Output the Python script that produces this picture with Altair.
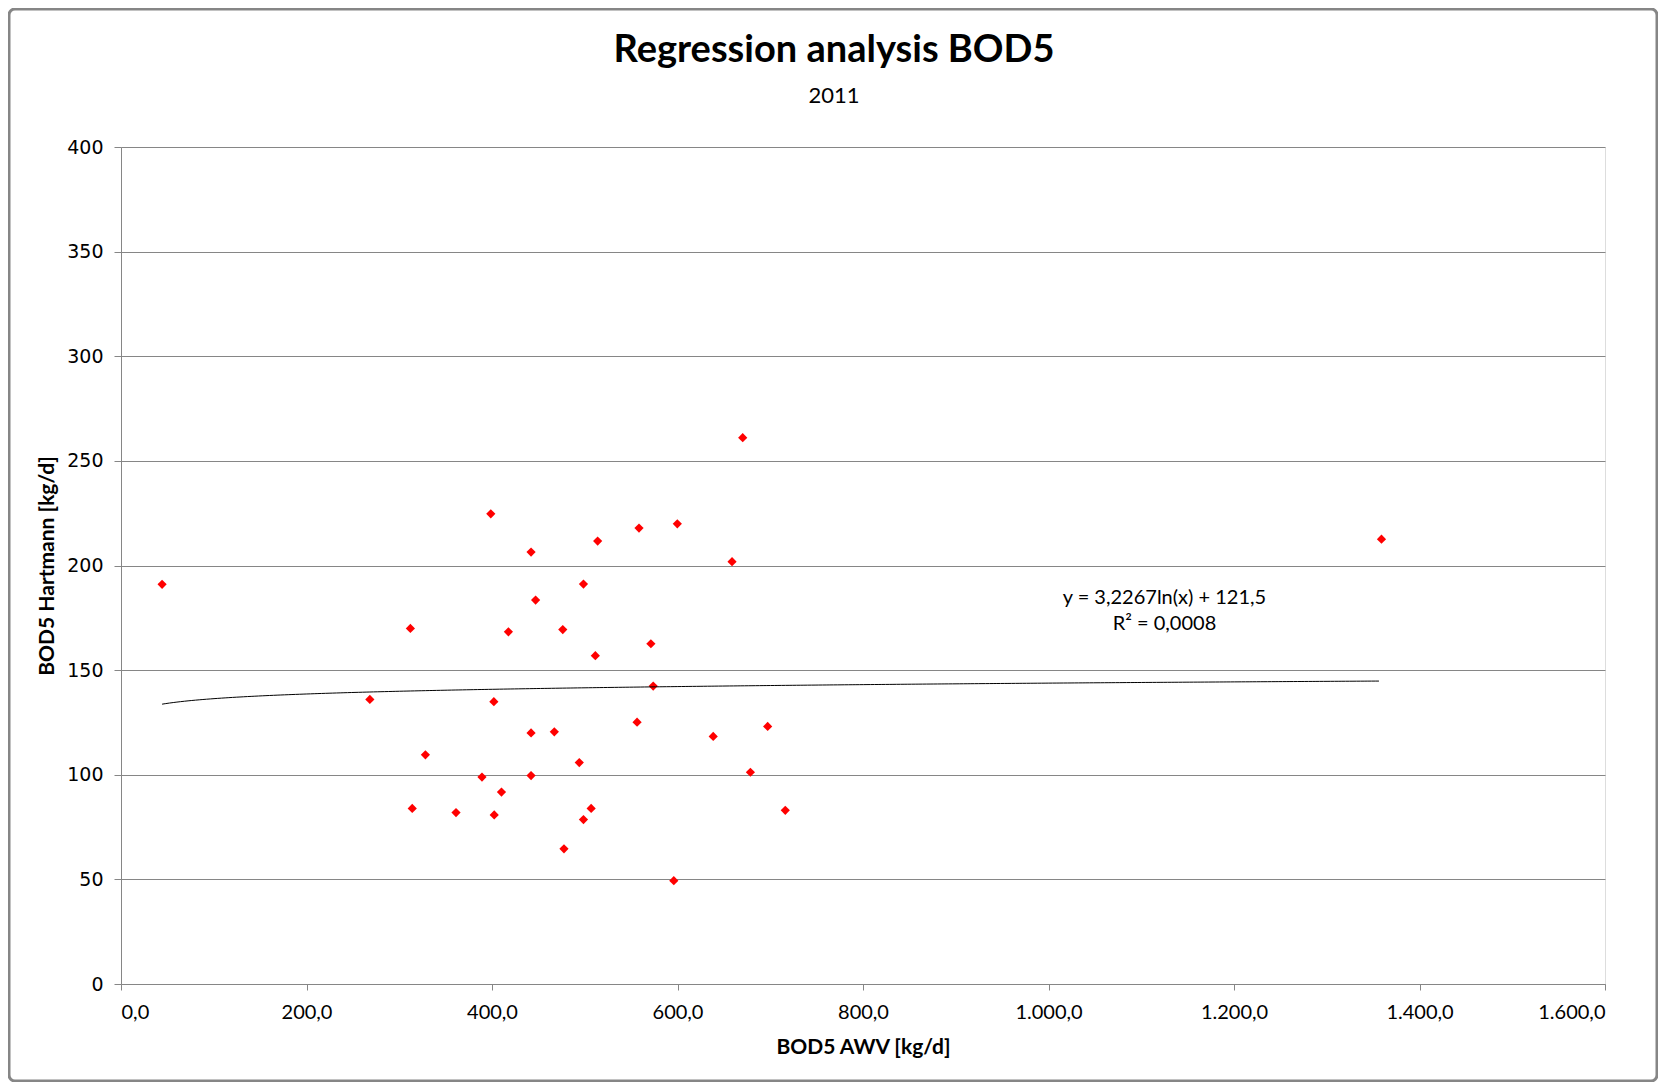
import altair as alt
import pandas as pd

# BOD5 AWV [kg/d] (x) and BOD5 Hartmann [kg/d] (y)
awv = [44.3, 268.3, 312.0, 314.0, 328.2, 361.2, 389.2, 398.7, 402.0, 402.4,
       410.2, 417.7, 442.1, 442.1, 442.1, 447.0, 467.2, 476.3, 477.6, 494.1,
       498.6, 498.6, 506.9, 511.4, 513.9, 556.4, 558.5, 571.3, 573.8, 596.0,
       599.8, 638.5, 658.8, 670.3, 678.6, 697.2, 716.2, 1359.0]
hartmann = [191.0, 136.0, 169.9, 83.9, 109.5, 81.9, 98.9, 224.7, 134.9, 80.8,
            91.7, 168.3, 206.4, 120.0, 99.6, 183.5, 120.5, 169.4, 64.6, 105.8,
            191.1, 78.6, 83.9, 156.9, 211.7, 125.1, 217.9, 162.6, 142.4, 49.4,
            219.9, 118.3, 201.8, 261.1, 101.2, 123.1, 83.0, 212.6]

# logarithmic trend line as printed on the chart
slope = 3.2267
intercept = 121.5
eq_lines = ["y = 3,2267ln(x) + 121,5", "R² = 0,0008"]

x_ticks = list(range(0, 1601, 200))
y_ticks = list(range(0, 401, 50))

df = pd.DataFrame({"awv": awv, "hartmann": hartmann})

W, H = 1484, 837
PL, PT = 113, 139
PR = 1650 - PL - W
PB = 1074 - PT - H

GRAY = "#868686"
XT = "BOD5 AWV [kg/d]"
YT = "BOD5  Hartmann [kg/d]"

label_expr = ("replace(replace(replace(format(datum.value, ',.1f'), ',', '#'), "
              "'.', ','), '#', '.')")

x_scale = alt.Scale(domain=[0, 1600], nice=False, zero=False)
y_scale = alt.Scale(domain=[0, 400], nice=False)

x_axis = alt.Axis(values=x_ticks, labelExpr=label_expr, grid=False, tickSize=6,
                  domainColor=GRAY, tickColor=GRAY,
                  labelFont="Lato", labelFontSize=20, labelPadding=12,
                  titleFont="Lato", titleFontSize=21, titleFontWeight="bold",
                  titlePadding=14)
y_axis = alt.Axis(values=y_ticks, grid=True, gridColor=GRAY, gridOpacity=1,
                  gridWidth=1, tickSize=7, domainColor=GRAY, tickColor=GRAY,
                  labelFont="DejaVu Sans", labelFontSize=19, labelPadding=11,
                  titleFont="Lato", titleFontSize=21, titleFontWeight="bold",
                  titlePadding=9)

frame = alt.Chart(pd.DataFrame({"a": [0]})).mark_rect(
    fillOpacity=0, stroke=GRAY, strokeWidth=3, cornerRadius=6
).encode(
    x=alt.value(-PL + 1), x2=alt.value(W + PR - 1),
    y=alt.value(-PT + 1), y2=alt.value(H + PB - 1),
)

points = alt.Chart(df).mark_point(
    shape="diamond", filled=True, color="#FF0000", size=85, opacity=1
).encode(
    x=alt.X("awv:Q", scale=x_scale, axis=x_axis, title=XT),
    y=alt.Y("hartmann:Q", scale=y_scale, axis=y_axis, title=YT),
)

trend = alt.Chart(
    alt.sequence(start=min(awv), stop=max(awv) + 1, step=4, as_="awv")
).transform_calculate(
    trend=f"{slope} * log(datum.awv) + {intercept}"
).mark_line(color="black", strokeWidth=1).encode(
    x=alt.X("awv:Q", title=XT),
    y=alt.Y("trend:Q", title=YT),
    order="awv:Q",
)

eq1 = alt.Chart(pd.DataFrame({"a": [0]})).mark_text(
    font="Lato", fontSize=20, align="center", baseline="alphabetic", color="black"
).encode(x=alt.datum(1125), y=alt.datum(181.8), text=alt.value(eq_lines[0]))
eq2 = alt.Chart(pd.DataFrame({"a": [0]})).mark_text(
    font="Lato", fontSize=20, align="center", baseline="alphabetic", color="black"
).encode(x=alt.datum(1125), y=alt.datum(169.4), text=alt.value(eq_lines[1]))

chart = alt.layer(frame, points, trend, eq1, eq2).properties(
    width=W, height=H,
    autosize=alt.AutoSizeParams(type="none"),
    padding={"left": PL, "top": PT, "right": PR, "bottom": PB},
    title=alt.TitleParams(
        text="Regression analysis BOD5", subtitle="2011",
        font="Lato", fontSize=38, fontWeight="bold", color="black",
        subtitleFont="Lato", subtitleFontSize=22, subtitleColor="black",
        anchor="middle", frame="group", dx=-29, offset=36, dy=PT - 4,
        subtitlePadding=16,
    ),
).configure_view(stroke=None).configure(background="white")

chart.save("out.html", embed_options={"renderer": "svg", "actions": False})
